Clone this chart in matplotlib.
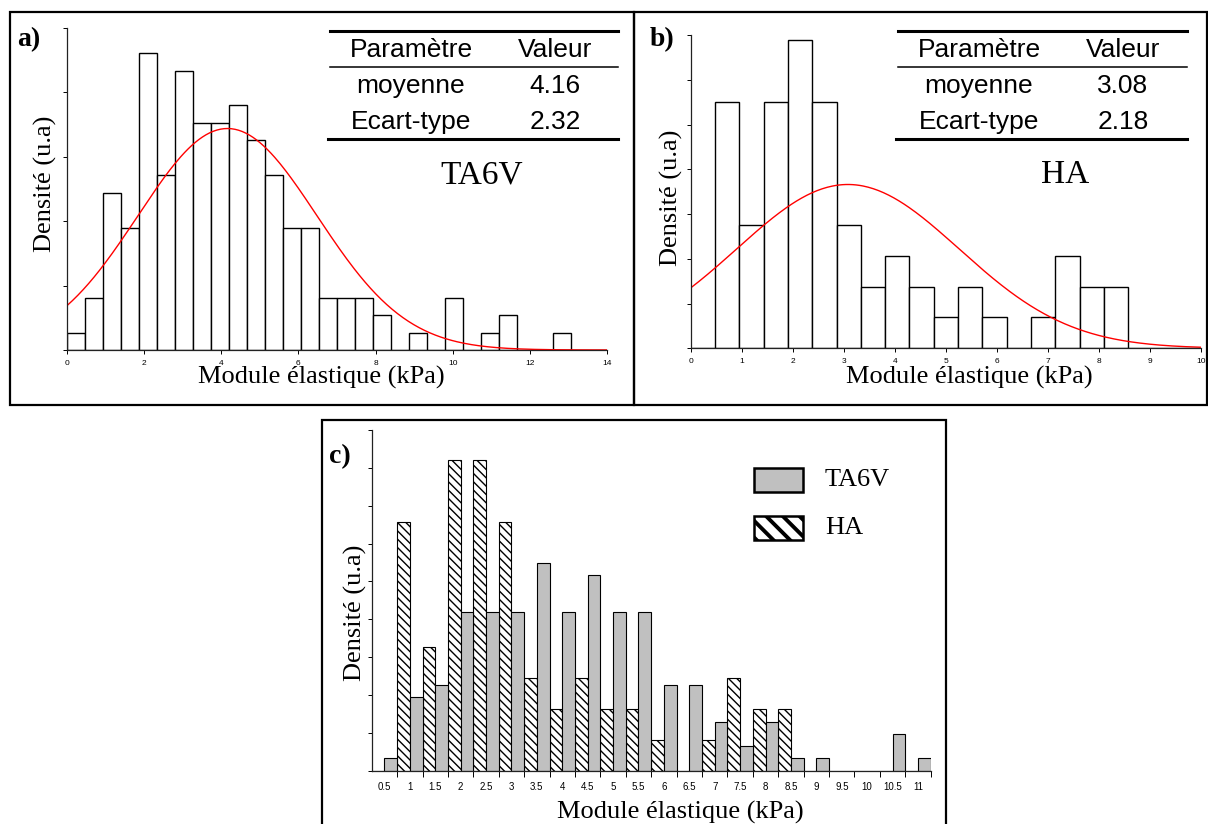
import numpy as np
import matplotlib
matplotlib.use("Agg")
from matplotlib import pyplot as plt
from matplotlib.patches import Rectangle
from matplotlib.lines import Line2D

plt.rcParams['font.family'] = ['Liberation Serif', 'DejaVu Serif']
plt.rcParams['hatch.linewidth'] = 1.0

# ---- data ----
# a) TA6V histogram, 30 bins from 0 to 14 kPa (counts)
ta_edges = np.linspace(0, 14, 31)
ta_counts = [1, 3, 9, 7, 17, 10, 16, 13, 13, 14, 12, 10, 7, 7, 3,
             3, 3, 2, 0, 1, 0, 3, 0, 1, 2, 0, 0, 1, 0, 0]
ta_mean, ta_std = 4.16, 2.32

# b) HA histogram, 21 bins from 0 to 10 kPa (counts)
ha_edges = np.linspace(0, 10, 22)
ha_counts = [0, 8, 4, 8, 10, 8, 4, 2, 3, 2, 1, 2, 1, 0, 1, 3, 2, 2, 0, 0, 0]
ha_mean, ha_std = 3.08, 2.18

# c) comparison, counts per class
classes = ['0.5', '1', '1.5', '2', '2.5', '3', '3.5', '4', '4.5', '5', '5.5',
           '6', '6.5', '7', '7.5', '8', '8.5', '9', '9.5', '10', '10.5', '11']
c_ta6v = [1, 6, 7, 13, 13, 13, 17, 13, 16, 13, 13, 7, 7, 4, 2, 4, 1, 1, 0, 0, 3, 1]
c_ha = [0, 8, 4, 10, 10, 8, 3, 2, 3, 2, 2, 1, 0, 1, 3, 2, 2, 0, 0, 0, 0, 0]

W, H = 1208, 824
fig = plt.figure(figsize=(W / 100, H / 100), dpi=100)


def fx(x):
    return x / W


def fy(y):
    return 1 - y / H


def box(x0, y0, x1, y1):
    fig.add_artist(Rectangle((fx(x0), fy(y1)), fx(x1) - fx(x0), fy(y0) - fy(y1),
                             transform=fig.transFigure, fill=False, lw=1.6, ec='black'))


def hline(x0, x1, y, lw):
    fig.add_artist(Line2D([fx(x0), fx(x1)], [fy(y), fy(y)], transform=fig.transFigure,
                          color='black', lw=lw))


def style_axes(ax, tsize=6):
    for s in ['top', 'right']:
        ax.spines[s].set_visible(False)
    for s in ['left', 'bottom']:
        ax.spines[s].set_linewidth(0.9)
        ax.spines[s].set_color('#222222')
    ax.tick_params(axis='y', direction='out', length=3, width=0.7, labelleft=False)
    ax.tick_params(axis='x', direction='out', length=3, width=0.7, pad=4)
    for lab in ax.get_xticklabels():
        lab.set_family(['Liberation Sans'])
        lab.set_fontsize(tsize)


def table(x0, x1, xc1, xc2, mean, std):
    hline(x0, x1, 31, 2.2)
    hline(x0, x1, 67, 1.1)
    hline(x0 - 2, x1, 139, 2.2)
    kw = dict(family=['Liberation Sans'], fontsize=19, ha='center', va='center')
    fig.text(fx(xc1), fy(50), 'Paramètre', **kw)
    fig.text(fx(xc2), fy(50), 'Valeur', **kw)
    fig.text(fx(xc1), fy(86), 'moyenne', **kw)
    fig.text(fx(xc2), fy(86), '%.2f' % mean, **kw)
    fig.text(fx(xc1), fy(122), 'Ecart-type', **kw)
    fig.text(fx(xc2), fy(122), '%.2f' % std, **kw)


def normal(x, m, s):
    return np.exp(-0.5 * ((x - m) / s) ** 2) / (s * np.sqrt(2 * np.pi))


# ---- panel a ----
box(10, 12, 634, 405)
ax1 = fig.add_axes([fx(67), fy(350), fx(607) - fx(67), fy(28) - fy(350)])
w1 = ta_edges[1] - ta_edges[0]
dens1 = np.array(ta_counts) / (sum(ta_counts) * w1)
ax1.bar(ta_edges[:-1], dens1, width=w1, align='edge', color='white',
        edgecolor='black', linewidth=1.0)
xs = np.linspace(0, 14, 300)
ax1.plot(xs, normal(xs, ta_mean, ta_std), color='red', lw=1.0)
ax1.set_xlim(0, 14)
ax1.set_ylim(0, 0.25)
ax1.set_xticks(np.arange(0, 15, 2))
ax1.set_yticks(np.arange(0, 0.251, 0.05))
style_axes(ax1)
ax1.set_xlabel('Module élastique (kPa)', fontsize=19, labelpad=0)
ax1.xaxis.set_label_coords(0.471, -0.05)
ax1.set_ylabel('Densité (u.a)', fontsize=19)
ax1.yaxis.set_label_coords(-0.018, 0.516)
fig.text(fx(17), fy(40), 'a)', fontsize=20, fontweight='bold', va='center')
table(330, 618, 411, 555, ta_mean, ta_std)
fig.text(fx(482), fy(175), 'TA6V', fontsize=24, ha='center', va='center')

# ---- panel b ----
box(634, 12, 1207, 405)
ax2 = fig.add_axes([fx(690.7), fy(348.3), fx(1201) - fx(690.7), fy(35) - fy(348.3)])
w2 = ha_edges[1] - ha_edges[0]
dens2 = np.array(ha_counts) / (sum(ha_counts) * w2)
ax2.bar(ha_edges[:-1], dens2, width=w2, align='edge', color='white',
        edgecolor='black', linewidth=1.0)
xs = np.linspace(0, 10, 300)
ax2.plot(xs, normal(xs, ha_mean, ha_std), color='red', lw=1.0)
ax2.set_xlim(0, 10)
ax2.set_ylim(0, 0.35)
ax2.set_xticks(np.arange(0, 11, 1))
ax2.set_yticks(np.arange(0, 0.351, 0.05))
style_axes(ax2)
ax2.set_xlabel('Module élastique (kPa)', fontsize=19, labelpad=0)
ax2.xaxis.set_label_coords(0.545, -0.056)
ax2.set_ylabel('Densité (u.a)', fontsize=19)
ax2.yaxis.set_label_coords(-0.016, 0.48)
fig.text(fx(650), fy(40), 'b)', fontsize=20, fontweight='bold', va='center')
table(898, 1187, 979, 1123, ha_mean, ha_std)
fig.text(fx(1065), fy(175), 'HA', fontsize=24, ha='center', va='center')

# ---- panel c ----
box(322, 420, 946, 830)
ax3 = fig.add_axes([fx(371.7), fy(770.7), fx(930.7) - fx(371.7), fy(430) - fy(770.7)])
pos = np.arange(len(classes))
pct_ta = 100 * np.array(c_ta6v) / sum(c_ta6v)
pct_ha = 100 * np.array(c_ha) / sum(c_ha)
ax3.bar(pos - 0.25, pct_ha, width=0.5, color='white', edgecolor='black',
        linewidth=0.8, hatch='\\\\\\\\')
ax3.bar(pos + 0.25, pct_ta, width=0.5, color='#c0c0c0', edgecolor='black',
        linewidth=0.8)
ax3.set_xlim(-0.5, len(classes) - 0.5)
ax3.set_ylim(0, 18)
ax3.set_yticks(np.arange(0, 18.1, 2))
ax3.set_xticks(pos)
ax3.set_xticklabels(classes)
ax3.set_xticks(np.arange(len(classes)) + 0.5, minor=True)
style_axes(ax3, tsize=7)
ax3.tick_params(axis='x', which='major', length=0, pad=8)
ax3.tick_params(axis='x', which='minor', direction='out', length=4, width=0.7)
ax3.set_xlabel('Module élastique (kPa)', fontsize=19, labelpad=0)
ax3.xaxis.set_label_coords(0.552, -0.088)
ax3.set_ylabel('Densité (u.a)', fontsize=19)
ax3.yaxis.set_label_coords(-0.008, 0.463)
fig.text(fx(329), fy(457), 'c)', fontsize=20, fontweight='bold', va='center')

# legend
fig.add_artist(Rectangle((fx(754), fy(492)), fx(803) - fx(754), fy(468) - fy(492),
                         transform=fig.transFigure, fc='#c0c0c0', ec='black', lw=1.8))
with plt.rc_context({'hatch.linewidth': 2.8}):
    fig.add_artist(Rectangle((fx(754), fy(540)), fx(803) - fx(754), fy(516) - fy(540),
                             transform=fig.transFigure, fc='white', ec='black', lw=1.8,
                             hatch='\\\\'))
fig.text(fx(825), fy(480), 'TA6V', fontsize=19, va='center')
fig.text(fx(825), fy(528), 'HA', fontsize=19, va='center')

fig.savefig('out.png', dpi=100)
